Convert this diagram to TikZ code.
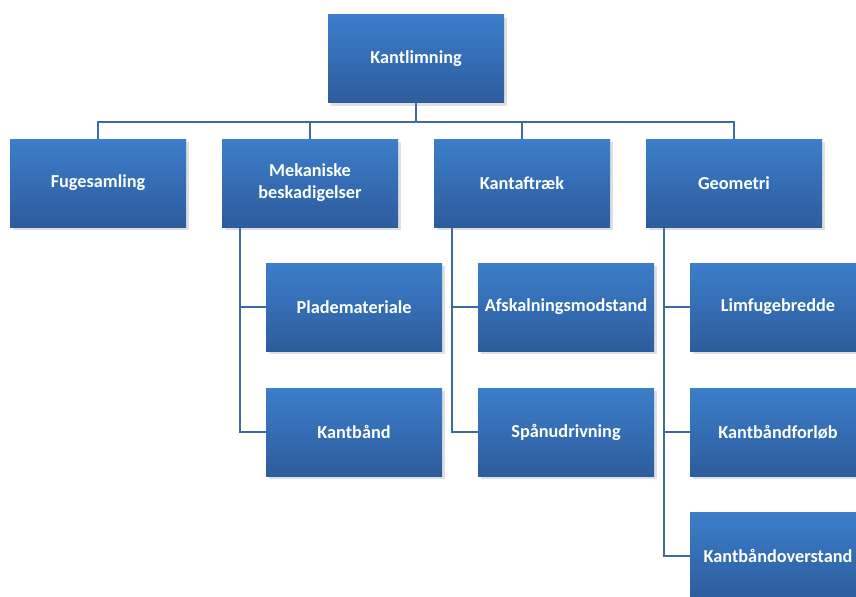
\documentclass[tikz,border=0pt]{standalone}
\usepackage{fontspec}
\setmainfont{Carlito}
\usetikzlibrary{shadows,backgrounds}
\definecolor{boxtop}{RGB}{60,126,202}
\definecolor{boxbot}{RGB}{45,92,156}
\definecolor{linkblue}{RGB}{62,106,164}
\tikzstyle{box} = [rectangle, draw=none, minimum width=132pt, minimum height=66pt,
  top color=boxtop, bottom color=boxbot, text=white, align=center,
  font=\fontsize{13.7}{16.5}\selectfont\bfseries,
  drop shadow={opacity=0.25, shadow xshift=2pt, shadow yshift=-2.5pt}]
\tikzset{
  link/.style ={draw=linkblue, line width=1.4pt}
}

\begin{document}
\begin{tikzpicture}[x=0.75pt,y=-0.75pt]
	\clip (0,0) rectangle (856,596);
	% top level
	\node[box] (top) at (416,58.5) {Kantlimning};
	\node[box] (fuge) at (98,183) {Fugesamling};
	\node[box] (mek) at (310,183) {Mekaniske\\beskadigelser};
	\node[box] (kant) at (522,183) {Kantaftræk};
	\node[box] (geo) at (734,183) {Geometri};
	% children
	\node[box] (plade) at (354,307) {Plademateriale};
	\node[box] (kbaand) at (354,432) {Kantbånd};
	\node[box] (afsk) at (566,307) {Afskalningsmodstand};
	\node[box] (spaan) at (566,432) {Spånudrivning};
	\node[box] (limf) at (778,307) {Limfugebredde};
	\node[box] (forl) at (778,432) {Kantbåndforløb};
	\node[box] (over) at (778,556) {Kantbåndoverstand};
	\begin{scope}[on background layer]
	\foreach \n in {fuge,mek,kant,geo}
		\draw[link] (top.south) -- ++(0,19) -| (\n.north);
	\foreach \p/\c in {mek/plade,mek/kbaand,kant/afsk,kant/spaan,geo/limf,geo/forl,geo/over}
		\draw[link] ([xshift=13.5pt]\p.south west) |- (\c.west);
	\end{scope}
\end{tikzpicture}
\end{document}
